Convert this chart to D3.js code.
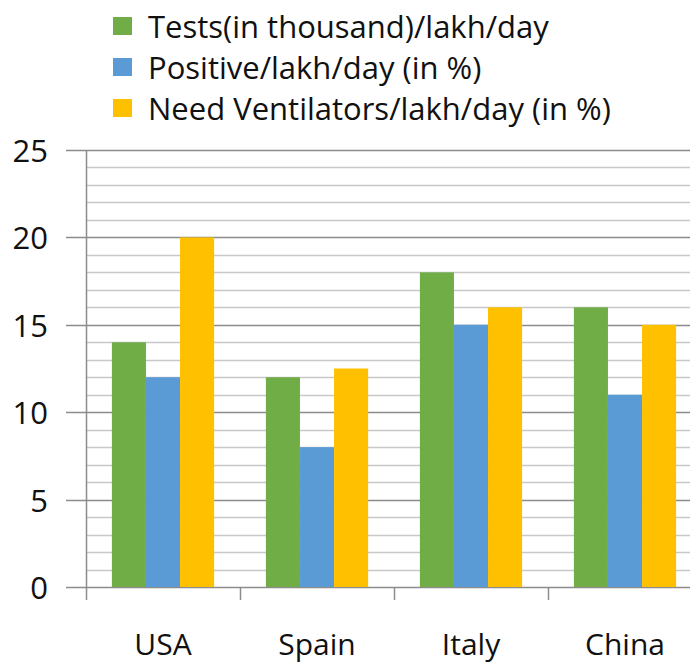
<!DOCTYPE html>
<html>
<head>
<meta charset="utf-8">
<script src="https://cdn.jsdelivr.net/npm/d3@7/dist/d3.min.js"></script>
<style>
  body { margin: 0; background: #fff; }
  svg { display: block; font-family: "Open Sans", "Noto Sans", sans-serif; }
</style>
</head>
<body>
<svg id="chart"></svg>
<script>
// Chart data
const countries = ['USA', 'Spain', 'Italy', 'China'];
const seriesNames = ['Tests(in thousand)/lakh/day', 'Positive/lakh/day (in %)', 'Need Ventilators/lakh/day (in %)'];
const tests = [14, 12, 18, 16];
const positive = [12, 8, 15, 11];
const ventilators = [20, 12.5, 16, 15];
const yTicks = [0, 5, 10, 15, 20, 25];
const colors = ['#70AD47', '#5B9BD5', '#FFC000'];

const width = 690, height = 665;
const margin = { top: 150, right: -12, bottom: 78, left: 86 };

const svg = d3.select('#chart').attr('width', width).attr('height', height);

const values = [tests, positive, ventilators];
const rows = countries.map((c, i) => ({ country: c, vals: values.map(v => v[i]) }));

const x = d3.scaleBand().domain(countries)
  .range([margin.left, width - margin.right]).paddingInner(0).paddingOuter(0);
const xInner = d3.scaleBand().domain(d3.range(seriesNames.length))
  .range([0, x.bandwidth()]).paddingInner(0).paddingOuter(0.76);
const y = d3.scaleLinear().domain([0, 25]).range([height - margin.bottom, margin.top]);

// Minor gridlines every 1 unit
svg.append('g').selectAll('line').data(d3.range(1, 26).filter(d => d % 5 !== 0)).join('line')
  .attr('x1', margin.left).attr('x2', width)
  .attr('y1', d => Math.round(y(d)) + 0.5).attr('y2', d => Math.round(y(d)) + 0.5)
  .attr('stroke', '#c8c8c8').attr('stroke-width', 1.5);

// Major gridlines + ticks
svg.append('g').selectAll('line').data(yTicks).join('line')
  .attr('x1', margin.left - 20).attr('x2', width)
  .attr('y1', d => Math.round(y(d)) + 0.5).attr('y2', d => Math.round(y(d)) + 0.5)
  .attr('stroke', '#8c8c8c').attr('stroke-width', 1.5);

// Bars
const groups = svg.append('g').selectAll('g').data(rows).join('g')
  .attr('transform', d => `translate(${x(d.country)},0)`);
groups.selectAll('rect').data(d => d.vals).join('rect')
  .attr('x', (d, i) => xInner(i))
  .attr('width', xInner.bandwidth())
  .attr('y', d => y(d))
  .attr('height', d => y(0) - y(d))
  .attr('fill', (d, i) => colors[i]);

// Y axis line
svg.append('line')
  .attr('x1', margin.left + 0.5).attr('x2', margin.left + 0.5)
  .attr('y1', y(25)).attr('y2', y(0))
  .attr('stroke', '#8c8c8c').attr('stroke-width', 1.5);

// X ticks at category boundaries
svg.append('g').selectAll('line').data(countries).join('line')
  .attr('x1', d => Math.round(x(d)) + 0.5).attr('x2', d => Math.round(x(d)) + 0.5)
  .attr('y1', y(0)).attr('y2', y(0) + 13)
  .attr('stroke', '#8c8c8c').attr('stroke-width', 1.5);

// Y tick labels
svg.append('g').selectAll('text').data(yTicks).join('text')
  .attr('x', 48).attr('y', d => y(d) + 12)
  .attr('text-anchor', 'end').attr('font-size', '31px').attr('fill', '#111')
  .text(d => d);

// Category labels
svg.append('g').selectAll('text').data(countries).join('text')
  .attr('x', d => x(d) + x.bandwidth() / 2).attr('y', 655)
  .attr('text-anchor', 'middle').attr('font-size', '30px').attr('fill', '#111')
  .text(d => d);

// Legend
const legend = svg.append('g').selectAll('g').data(seriesNames).join('g')
  .attr('transform', (d, i) => `translate(113, ${26 + i * 41})`);
legend.append('rect')
  .attr('x', 0).attr('y', -9).attr('width', 19).attr('height', 18)
  .attr('fill', (d, i) => colors[i]);
legend.append('text')
  .attr('x', 35).attr('y', 12)
  .attr('font-size', '31px').attr('fill', '#111')
  .text(d => d);
</script>
</body>
</html>
